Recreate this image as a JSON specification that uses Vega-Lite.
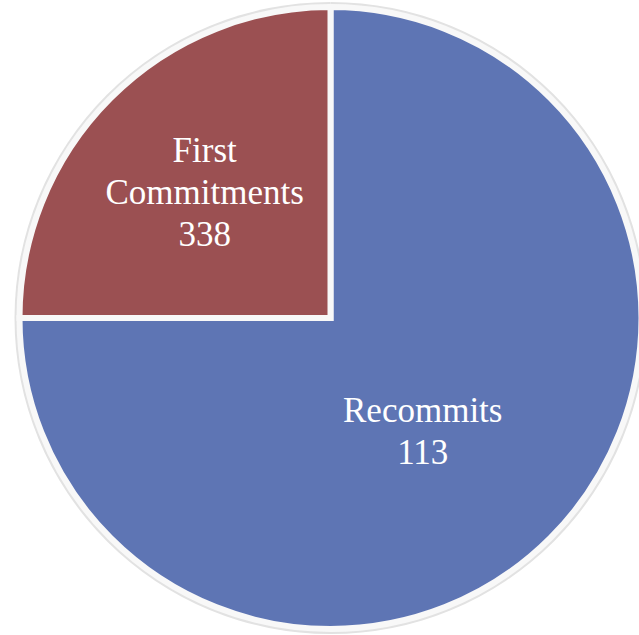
{
  "$schema": "https://vega.github.io/schema/vega-lite/v6.json",
  "width": 639,
  "height": 635,
  "autosize": {"type": "fit", "contains": "padding"},
  "padding": {"left": 22, "top": 1, "right": 0, "bottom": 0},
  "background": "white",
  "view": {"stroke": null},
  "data": {
    "values": [
      {"category": "Recommits", "value": 113, "share": 75},
      {"category": "First Commitments", "value": 338, "share": 25}
    ]
  },
  "transform": [
    {"calculate": "replace(datum.category, ' ', '\\n') + '\\n' + datum.value", "as": "label"}
  ],
  "encoding": {
    "theta": {"field": "share", "type": "quantitative", "stack": true},
    "order": {"field": "share", "sort": "descending"},
    "color": {
      "field": "category",
      "type": "nominal",
      "scale": {"domain": ["Recommits", "First Commitments"], "range": ["#5e75b4", "#9b5052"]},
      "legend": null
    }
  },
  "layer": [
    {
      "mark": {"type": "arc", "outerRadius": 316},
      "encoding": {"color": {"value": "#e2e2e2"}}
    },
    {
      "mark": {"type": "arc", "outerRadius": 311, "stroke": "#f8f8f8", "strokeWidth": 6}
    },
    {
      "mark": {"type": "text", "radius": 178, "dy": -41, "font": "Liberation Serif", "fontSize": 35, "lineHeight": 42, "color": "white", "align": "center", "baseline": "middle", "lineBreak": "\n"},
      "encoding": {
        "color": {"value": "white"},
        "text": {"condition": {"test": "datum.category === 'First Commitments'", "field": "label"}, "value": ""}
      }
    },
    {
      "mark": {"type": "text", "radius": 146, "dx": -11, "dy": -10, "font": "Liberation Serif", "fontSize": 35, "lineHeight": 42, "color": "white", "align": "center", "baseline": "middle", "lineBreak": "\n"},
      "encoding": {
        "color": {"value": "white"},
        "text": {"condition": {"test": "datum.category === 'Recommits'", "field": "label"}, "value": ""}
      }
    }
  ]
}
